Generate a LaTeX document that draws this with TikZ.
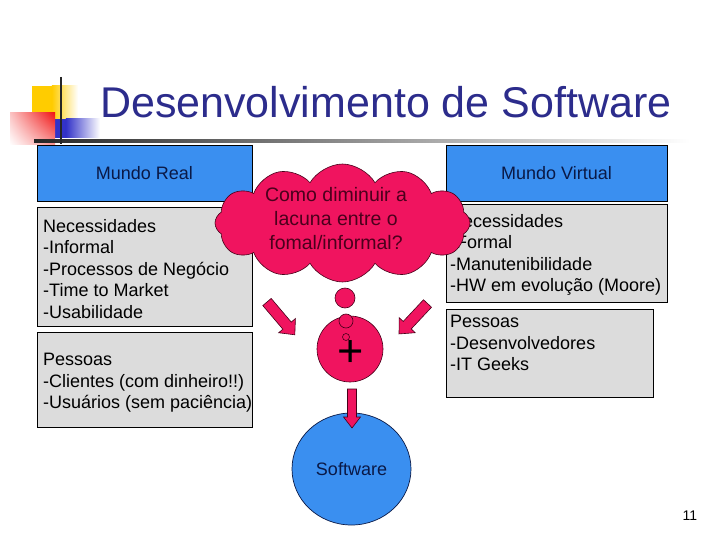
\documentclass[tikz,border=0pt]{standalone}
\usepackage{fontspec}
\setmainfont{Liberation Sans}
\usetikzlibrary{shapes.symbols,shapes.geometric,shadings}
\definecolor{boxblue}{RGB}{58,143,240}
\definecolor{boxgrey}{RGB}{220,220,220}
\definecolor{pinkc}{RGB}{240,20,95}
\definecolor{pinkline}{RGB}{70,0,25}
\definecolor{titleblue}{RGB}{44,44,140}
\definecolor{navytext}{RGB}{10,25,70}
\definecolor{maroontext}{RGB}{75,0,28}
\definecolor{logoyellow}{RGB}{255,204,0}
\definecolor{logored}{RGB}{240,20,20}
\definecolor{logoblue}{RGB}{50,50,200}
\newcommand\blockarrow[7]{% x, y, angle, length, shaft half, head half, head length
  \begin{scope}[shift={(#1,#2)},rotate=#3]
    \draw[pinkshape] (0,-#5) -- ({#4-#7},-#5) -- ({#4-#7},-#6) -- (#4,0) -- ({#4-#7},#6) -- ({#4-#7},#5) -- (0,#5) -- cycle;
  \end{scope}}
\begin{document}
\begin{tikzpicture}[x=1pt,y=-1pt,
  bodyfont/.style={font=\fontsize{18}{21.5}\selectfont},
  bluebox/.style={draw=black, line width=0.8pt, fill=boxblue, inner sep=0pt, text=navytext, bodyfont},
  greybox/.style={draw=black, line width=0.8pt, fill=boxgrey, inner sep=0pt, anchor=north west},
  bodytext/.style={anchor=north west, inner sep=0pt, align=left, text=black, bodyfont},
  pinkshape/.style={fill=pinkc, draw=pinkline, line width=0.6pt},
  thought/.style={circle, pinkshape, inner sep=0pt},
]
\useasboundingbox (0,0) rectangle (720,540);
\fill[white] (0,0) rectangle (720,540);

% logo
\fill[logoyellow] (32,86) rectangle (52,119);
\shade[left color=logoyellow, right color=white] (51.8,86) rectangle (78,119);
\fill[logoblue] (55,119) rectangle (66,138);
\shade[left color=logoblue, right color=white] (65.8,119) rectangle (100,138);
\shade[upper right=logored, upper left=logored!25, lower right=logored!45, lower left=white] (10,113) rectangle (55,145);
\shade[left color=black!85, right color=white] (34,139.5) rectangle (690,142.5);
\draw[line width=2.2pt, black!85] (61,77) -- (61,144);

% title
\node[anchor=base west, inner sep=0pt, text=titleblue, font=\fontsize{43}{43}\selectfont] (title) at (100,118) {Desenvolvimento de Software};

% left column
\node[bluebox, minimum width=215, minimum height=56] (realhead) at (144.5,173) {Mundo Real};
\node[greybox, minimum width=215, minimum height=119] (realneed) at (37,207) {};
\node[bodytext] (realneedtxt) at (43,219.1) {Necessidades\\-Informal\\-Processos de Negócio\\-Time to Market\\-Usabilidade};
\node[greybox, minimum width=215, minimum height=95] (realpeople) at (37,332) {};
\node[bodytext] (realpeopletxt) at (43,353.1) {Pessoas\\-Clientes (com dinheiro!!)\\-Usuários (sem paciência)};

% right column
\node[bluebox, minimum width=221, minimum height=56] (virthead) at (556.5,173) {Mundo Virtual};
\node[greybox, minimum width=221, minimum height=98] (virtneed) at (446,204) {};
\node[bodytext] (virtneedtxt) at (450,214.1) {Necessidades\\-Formal\\-Manutenibilidade\\-HW em evolução (Moore)};
\node[greybox, minimum width=207, minimum height=88] (virtpeople) at (446,309) {};
\node[bodytext] (virtpeopletxt) at (450,315.1) {Pessoas\\-Desenvolvedores\\-IT Geeks};

% cloud
\node[cloud, cloud puffs=12, cloud puff arc=120, cloud ignores aspect, minimum width=255, minimum height=118, inner sep=0pt, pinkshape] (gap) at (342.5,223) {};
\node[align=center, inner sep=0pt, text=maroontext, font=\fontsize{19.5}{24}\selectfont] (gaptxt) at (336,219) {Como diminuir a\\lacuna entre o\\fomal/informal?};

% thought bubbles and plus
\node[thought, minimum size=66] (plus) at (350,349) {};
\node[thought, minimum size=20] (th1) at (345,298) {};
\node[thought, minimum size=14] (th2) at (346,321) {};
\node[thought, minimum size=7] (th3) at (346,337) {};
\node[inner sep=0pt, font=\fontsize{45}{45}\selectfont] (plustxt) at (351,354) {+};

% block arrows
\blockarrow{267}{302}{-49.7}{43}{5.5}{11}{12}
\blockarrow{427.5}{303.5}{-133.1}{41.7}{5.5}{11}{12}

% software
\node[ellipse, draw=navytext, line width=0.7pt, fill=boxblue, minimum width=119, minimum height=112, inner sep=0pt, text=navytext, bodyfont] (soft) at (351.5,469) {Software};
\blockarrow{352}{389}{-90}{39}{4.5}{8.5}{11}

% page number
\node[inner sep=0pt, font=\fontsize{14}{14}\selectfont] (page) at (690,516) {11};
\end{tikzpicture}
\end{document}
